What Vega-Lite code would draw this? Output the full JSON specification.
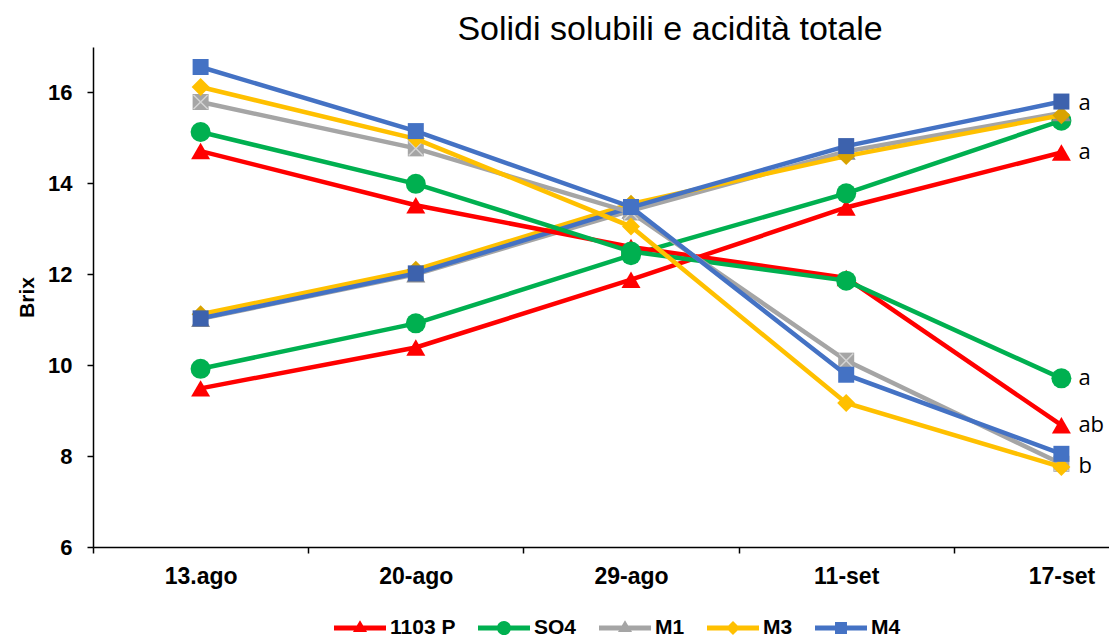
{
  "$schema": "https://vega.github.io/schema/vega-lite/v6.json",
  "autosize": {"type": "none"},
  "padding": {"left": 93, "top": 47, "right": 0, "bottom": 90},
  "width": 1016,
  "height": 500,
  "background": "white",
  "config": {"view": {"stroke": null}, "font": "Liberation Sans"},
  "title": {"text": "Solidi solubili e acidità totale", "font": "Liberation Sans", "fontSize": 34, "fontWeight": "normal", "color": "black", "anchor": "middle", "frame": "group", "dx": 69, "dy": 34, "offset": 7, "baseline": "alphabetic"},
  "data": {"values": [
    {"date": "13.ago", "series": "1103 P", "measure": "solidi", "value": 9.49},
    {"date": "20-ago", "series": "1103 P", "measure": "solidi", "value": 10.39},
    {"date": "29-ago", "series": "1103 P", "measure": "solidi", "value": 11.88},
    {"date": "11-set", "series": "1103 P", "measure": "solidi", "value": 13.47},
    {"date": "17-set", "series": "1103 P", "measure": "solidi", "value": 14.68},
    {"date": "13.ago", "series": "SO4", "measure": "solidi", "value": 9.92},
    {"date": "20-ago", "series": "SO4", "measure": "solidi", "value": 10.92},
    {"date": "29-ago", "series": "SO4", "measure": "solidi", "value": 12.42},
    {"date": "11-set", "series": "SO4", "measure": "solidi", "value": 13.78},
    {"date": "17-set", "series": "SO4", "measure": "solidi", "value": 15.38},
    {"date": "13.ago", "series": "M1", "measure": "solidi", "value": 11.02},
    {"date": "20-ago", "series": "M1", "measure": "solidi", "value": 12.0},
    {"date": "29-ago", "series": "M1", "measure": "solidi", "value": 13.4},
    {"date": "11-set", "series": "M1", "measure": "solidi", "value": 14.7},
    {"date": "17-set", "series": "M1", "measure": "solidi", "value": 15.55},
    {"date": "13.ago", "series": "M3", "measure": "solidi", "value": 11.12},
    {"date": "20-ago", "series": "M3", "measure": "solidi", "value": 12.1},
    {"date": "29-ago", "series": "M3", "measure": "solidi", "value": 13.55},
    {"date": "11-set", "series": "M3", "measure": "solidi", "value": 14.6},
    {"date": "17-set", "series": "M3", "measure": "solidi", "value": 15.5},
    {"date": "13.ago", "series": "M4", "measure": "solidi", "value": 11.03},
    {"date": "20-ago", "series": "M4", "measure": "solidi", "value": 12.02},
    {"date": "29-ago", "series": "M4", "measure": "solidi", "value": 13.47},
    {"date": "11-set", "series": "M4", "measure": "solidi", "value": 14.82},
    {"date": "17-set", "series": "M4", "measure": "solidi", "value": 15.8},
    {"date": "13.ago", "series": "1103 P", "measure": "acidita", "value": 14.71},
    {"date": "20-ago", "series": "1103 P", "measure": "acidita", "value": 13.52},
    {"date": "29-ago", "series": "1103 P", "measure": "acidita", "value": 12.6},
    {"date": "11-set", "series": "1103 P", "measure": "acidita", "value": 11.92},
    {"date": "17-set", "series": "1103 P", "measure": "acidita", "value": 8.68},
    {"date": "13.ago", "series": "SO4", "measure": "acidita", "value": 15.13},
    {"date": "20-ago", "series": "SO4", "measure": "acidita", "value": 13.99},
    {"date": "29-ago", "series": "SO4", "measure": "acidita", "value": 12.5},
    {"date": "11-set", "series": "SO4", "measure": "acidita", "value": 11.86},
    {"date": "17-set", "series": "SO4", "measure": "acidita", "value": 9.71},
    {"date": "13.ago", "series": "M1", "measure": "acidita", "value": 15.79},
    {"date": "20-ago", "series": "M1", "measure": "acidita", "value": 14.77},
    {"date": "29-ago", "series": "M1", "measure": "acidita", "value": 13.36},
    {"date": "11-set", "series": "M1", "measure": "acidita", "value": 10.1},
    {"date": "17-set", "series": "M1", "measure": "acidita", "value": 7.83},
    {"date": "13.ago", "series": "M3", "measure": "acidita", "value": 16.12},
    {"date": "20-ago", "series": "M3", "measure": "acidita", "value": 14.98},
    {"date": "29-ago", "series": "M3", "measure": "acidita", "value": 13.05},
    {"date": "11-set", "series": "M3", "measure": "acidita", "value": 9.17},
    {"date": "17-set", "series": "M3", "measure": "acidita", "value": 7.76},
    {"date": "13.ago", "series": "M4", "measure": "acidita", "value": 16.56},
    {"date": "20-ago", "series": "M4", "measure": "acidita", "value": 15.15},
    {"date": "29-ago", "series": "M4", "measure": "acidita", "value": 13.48},
    {"date": "11-set", "series": "M4", "measure": "acidita", "value": 9.79},
    {"date": "17-set", "series": "M4", "measure": "acidita", "value": 8.05}
  ]},
  "encoding": {
    "x": {"field": "date", "type": "ordinal",
      "scale": {"type": "band", "domain": ["13.ago", "20-ago", "29-ago", "11-set", "17-set"], "range": [0, 1076], "paddingInner": 0, "paddingOuter": 0},
      "axis": {"title": null, "tickBand": "extent", "labelAngle": 0, "domainColor": "black", "domainWidth": 1.5, "tickColor": "black", "tickWidth": 1.5, "tickSize": 6, "labelFont": "Liberation Sans", "labelFontSize": 23, "labelFontWeight": "bold", "labelColor": "black", "labelPadding": 12, "grid": false}},
    "y": {"field": "value", "type": "quantitative",
      "scale": {"domain": [6, 17], "nice": false, "zero": false},
      "axis": {"title": "Brix", "values": [6, 8, 10, 12, 14, 16], "grid": false, "domainColor": "black", "domainWidth": 1.5, "tickColor": "black", "tickWidth": 1.5, "tickSize": 6, "labelFont": "Liberation Sans", "labelFontSize": 22, "labelFontWeight": "bold", "labelColor": "black", "labelPadding": 15, "titleFont": "Liberation Sans", "titleFontSize": 21, "titleFontWeight": "bold", "titleColor": "black", "titlePadding": 10}}
  },
  "layer": [
    {"transform": [{"filter": "datum.measure === 'solidi' && datum.series === '1103 P'"}], "mark": {"type": "line", "color": "#FF0000", "strokeWidth": 4.5}},
    {"transform": [{"filter": "datum.measure === 'solidi' && datum.series === '1103 P'"}], "mark": {"type": "point", "shape": "triangle-up", "filled": true, "color": "#FF0000", "size": 361, "opacity": 1}},
    {"transform": [{"filter": "datum.measure === 'solidi' && datum.series === 'SO4'"}], "mark": {"type": "line", "color": "#00B050", "strokeWidth": 4.5}},
    {"transform": [{"filter": "datum.measure === 'solidi' && datum.series === 'SO4'"}], "mark": {"type": "point", "shape": "circle", "filled": true, "color": "#00B050", "size": 400, "opacity": 1}},
    {"transform": [{"filter": "datum.measure === 'solidi' && datum.series === 'M1'"}], "mark": {"type": "line", "color": "#A5A5A5", "strokeWidth": 4.5}},
    {"transform": [{"filter": "datum.measure === 'solidi' && datum.series === 'M1'"}], "mark": {"type": "point", "shape": "triangle-up", "filled": true, "color": "#8C8C8C", "size": 361, "opacity": 1}},
    {"transform": [{"filter": "datum.measure === 'solidi' && datum.series === 'M3'"}], "mark": {"type": "line", "color": "#FFC000", "strokeWidth": 4.5}},
    {"transform": [{"filter": "datum.measure === 'solidi' && datum.series === 'M3'"}], "mark": {"type": "point", "shape": "diamond", "filled": true, "color": "#D9A300", "size": 324, "opacity": 1}},
    {"transform": [{"filter": "datum.measure === 'solidi' && datum.series === 'M4'"}], "mark": {"type": "line", "color": "#4472C4", "strokeWidth": 4.5}},
    {"transform": [{"filter": "datum.measure === 'solidi' && datum.series === 'M4'"}], "mark": {"type": "point", "shape": "square", "filled": true, "color": "#3D62AD", "size": 256, "opacity": 1}},
    {"transform": [{"filter": "datum.measure === 'acidita' && datum.series === '1103 P'"}], "mark": {"type": "line", "color": "#FF0000", "strokeWidth": 4.5}},
    {"transform": [{"filter": "datum.measure === 'acidita' && datum.series === '1103 P'"}], "mark": {"type": "point", "shape": "triangle-up", "filled": true, "color": "#FF0000", "size": 361, "opacity": 1}},
    {"transform": [{"filter": "datum.measure === 'acidita' && datum.series === 'SO4'"}], "mark": {"type": "line", "color": "#00B050", "strokeWidth": 4.5}},
    {"transform": [{"filter": "datum.measure === 'acidita' && datum.series === 'SO4'"}], "mark": {"type": "point", "shape": "circle", "filled": true, "color": "#00B050", "size": 400, "opacity": 1}},
    {"transform": [{"filter": "datum.measure === 'acidita' && datum.series === 'M1'"}], "mark": {"type": "line", "color": "#A5A5A5", "strokeWidth": 4.5}},
    {"transform": [{"filter": "datum.measure === 'acidita' && datum.series === 'M1'"}], "mark": {"type": "point", "shape": "square", "filled": true, "color": "#A5A5A5", "size": 256, "opacity": 1}},
    {"transform": [{"filter": "datum.measure === 'acidita' && datum.series === 'M1'"}], "mark": {"type": "point", "shape": "M-1,-1L1,1M1,-1L-1,1", "filled": false, "color": "#D4D4D4", "strokeWidth": 1.5, "size": 200, "opacity": 1}},
    {"transform": [{"filter": "datum.measure === 'acidita' && datum.series === 'M3'"}], "mark": {"type": "line", "color": "#FFC000", "strokeWidth": 4.5}},
    {"transform": [{"filter": "datum.measure === 'acidita' && datum.series === 'M3'"}], "mark": {"type": "point", "shape": "diamond", "filled": true, "color": "#FFC000", "size": 324, "opacity": 1}},
    {"transform": [{"filter": "datum.measure === 'acidita' && datum.series === 'M4'"}], "mark": {"type": "line", "color": "#4472C4", "strokeWidth": 4.5}},
    {"transform": [{"filter": "datum.measure === 'acidita' && datum.series === 'M4'"}], "mark": {"type": "point", "shape": "square", "filled": true, "color": "#4472C4", "size": 256, "opacity": 1}},
    {
      "mark": {"type": "point", "filled": true, "opacity": 0},
      "encoding": {
        "color": {"field": "series", "type": "nominal",
          "scale": {"domain": ["1103 P", "SO4", "M1", "M3", "M4"], "range": ["#FF0000", "#00B050", "#A5A5A5", "#FFC000", "#4472C4"]},
          "legend": {"title": null, "orient": "none", "legendX": 241, "legendY": 555, "direction": "horizontal", "padding": 0, "symbolSize": 2704, "symbolStrokeWidth": 0, "symbolOpacity": 1, "labelOffset": 4, "columnPadding": 22, "labelFont": "Liberation Sans", "labelFontSize": 21, "labelFontWeight": "bold", "labelColor": "black"}},
        "shape": {"field": "series", "type": "nominal",
          "scale": {"domain": ["1103 P", "SO4", "M1", "M3", "M4"], "range": [
            "M-1,-0.1H1V0.1H-1Z M0,-0.3L0.27,0.15H-0.27Z",
            "M-1,-0.1H1V0.1H-1Z M-0.27,0A0.27,0.27 0 1,1 0.27,0A0.27,0.27 0 1,1 -0.27,0Z",
            "M-1,-0.1H1V0.1H-1Z M0,-0.3L0.27,0.15H-0.27Z",
            "M-1,-0.1H1V0.1H-1Z M0,-0.27L0.27,0L0,0.27L-0.27,0Z",
            "M-1,-0.1H1V0.1H-1Z M-0.23,-0.23H0.23V0.23H-0.23Z"]},
          "legend": {"title": null, "orient": "none", "legendX": 241, "legendY": 555, "direction": "horizontal", "padding": 0, "symbolSize": 2704, "symbolStrokeWidth": 0, "symbolOpacity": 1, "labelOffset": 4, "columnPadding": 22, "labelFont": "Liberation Sans", "labelFontSize": 21, "labelFontWeight": "bold", "labelColor": "black"}}
      }
    },
    {
      "data": {"values": [
        {"date": "17-set", "value": 15.76, "label": "a"},
        {"date": "17-set", "value": 14.7, "label": "a"},
        {"date": "17-set", "value": 9.72, "label": "a"},
        {"date": "17-set", "value": 8.68, "label": "ab"},
        {"date": "17-set", "value": 7.78, "label": "b"}
      ]},
      "mark": {"type": "text", "align": "left", "baseline": "middle", "dx": 17, "font": "Open Sans", "fontSize": 22, "color": "black"},
      "encoding": {"text": {"field": "label"}}
    }
  ]
}
